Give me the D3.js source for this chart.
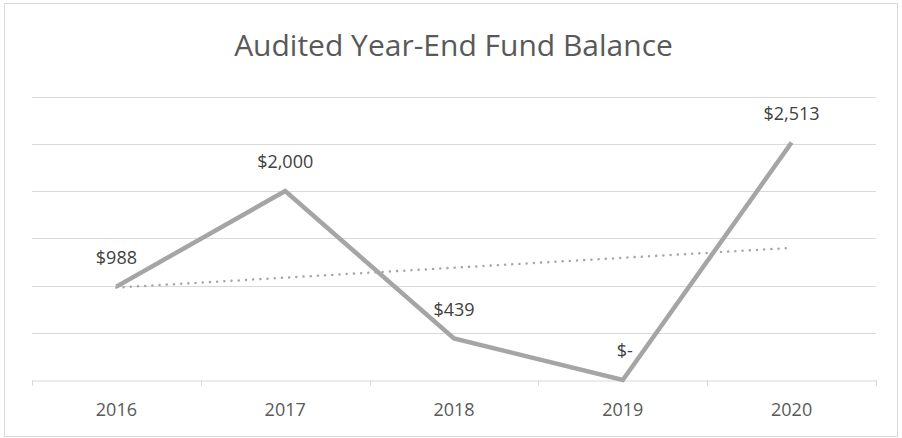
<!DOCTYPE html>
<html>
<head>
<meta charset="utf-8">
<script src="https://cdn.jsdelivr.net/npm/d3@7"></script>
<style>
  body { margin: 0; background: #fff; }
  svg { display: block; }
</style>
</head>
<body>
<svg id="chart" width="902" height="438"></svg>
<script>
const years = ['2016', '2017', '2018', '2019', '2020']
const balances = [988, 2000, 439, 0, 2513]
const labels = ['$988', '$2,000', '$439', '$-', '$2,513']
const yTicks = [0, 500, 1000, 1500, 2000, 2500, 3000]

function drawChart() {
  const svg = d3.select('#chart')
  svg.selectAll('*').remove()

  const left = 32, right = 876, top = 96.5, bottom = 380

  // chart frame
  svg.append('rect')
    .attr('x', 4.5).attr('y', 3.5)
    .attr('width', 893).attr('height', 433)
    .attr('fill', '#fff')
    .attr('stroke', '#d9d9d9')

  svg.append('text')
    .attr('x', 453.5).attr('y', 56)
    .attr('text-anchor', 'middle')
    .attr('font-family', 'Open Sans, sans-serif')
    .attr('font-size', 30)
    .attr('fill', '#595959')
    .text('Audited Year-End Fund Balance')

  const x = d3.scaleBand().domain(years).range([left, right])
  const y = d3.scaleLinear().domain([0, 3000]).range([bottom, top])

  // gridlines
  svg.append('g')
    .selectAll('line')
    .data(yTicks.slice(1))
    .join('line')
    .attr('x1', left).attr('x2', right)
    .attr('y1', d => Math.round(y(d)) + 0.5)
    .attr('y2', d => Math.round(y(d)) + 0.5)
    .attr('stroke', '#d9d9d9')
    .attr('stroke-width', 1)

  // x axis
  const xAxis = svg.append('g')
    .attr('transform', `translate(0,${bottom + 0.5})`)
    .call(d3.axisBottom(x).tickSize(0).tickPadding(23))
  xAxis.select('.domain').attr('stroke', '#d9d9d9')
  xAxis.selectAll('text')
    .attr('font-family', 'Open Sans, sans-serif')
    .attr('font-size', 18)
    .attr('fill', '#595959')

  // category boundary ticks
  const bounds = years.map(d => x(d)).concat([right])
  svg.append('g')
    .selectAll('line')
    .data(bounds)
    .join('line')
    .attr('x1', d => Math.round(d) + 0.5).attr('x2', d => Math.round(d) + 0.5)
    .attr('y1', bottom).attr('y2', bottom + 6)
    .attr('stroke', '#d9d9d9')

  const cx = d => x(d) + x.bandwidth() / 2

  // linear trendline from the data
  const n = balances.length
  const mx = d3.mean(d3.range(n))
  const my = d3.mean(balances)
  const slope = d3.sum(balances, (v, i) => (i - mx) * (v - my)) / d3.sum(d3.range(n), i => (i - mx) ** 2)
  const icpt = my - slope * mx

  svg.append('line')
    .attr('x1', cx(years[0])).attr('y1', y(icpt))
    .attr('x2', cx(years[n - 1])).attr('y2', y(icpt + slope * (n - 1)))
    .attr('stroke', '#a5a5a5')
    .attr('stroke-width', 2.5)
    .attr('stroke-linecap', 'round')
    .attr('stroke-dasharray', '0.01 7.2')

  const line = d3.line()
    .x((d, i) => cx(years[i]))
    .y(d => y(d))

  svg.append('path')
    .datum(balances)
    .attr('d', line)
    .attr('fill', 'none')
    .attr('stroke', '#a5a5a5')
    .attr('stroke-width', 4.5)
    .attr('stroke-linejoin', 'miter')

  svg.append('g')
    .selectAll('text')
    .data(balances)
    .join('text')
    .attr('x', (d, i) => cx(years[i]) + (i === 3 ? 2 : 0))
    .attr('y', d => y(d) - 23)
    .attr('text-anchor', 'middle')
    .attr('font-family', 'Open Sans, sans-serif')
    .attr('font-size', 18)
    .attr('fill', '#404040')
    .text((d, i) => labels[i])
}

document.addEventListener('DOMContentLoaded', drawChart, false)
</script>
</body>
</html>
